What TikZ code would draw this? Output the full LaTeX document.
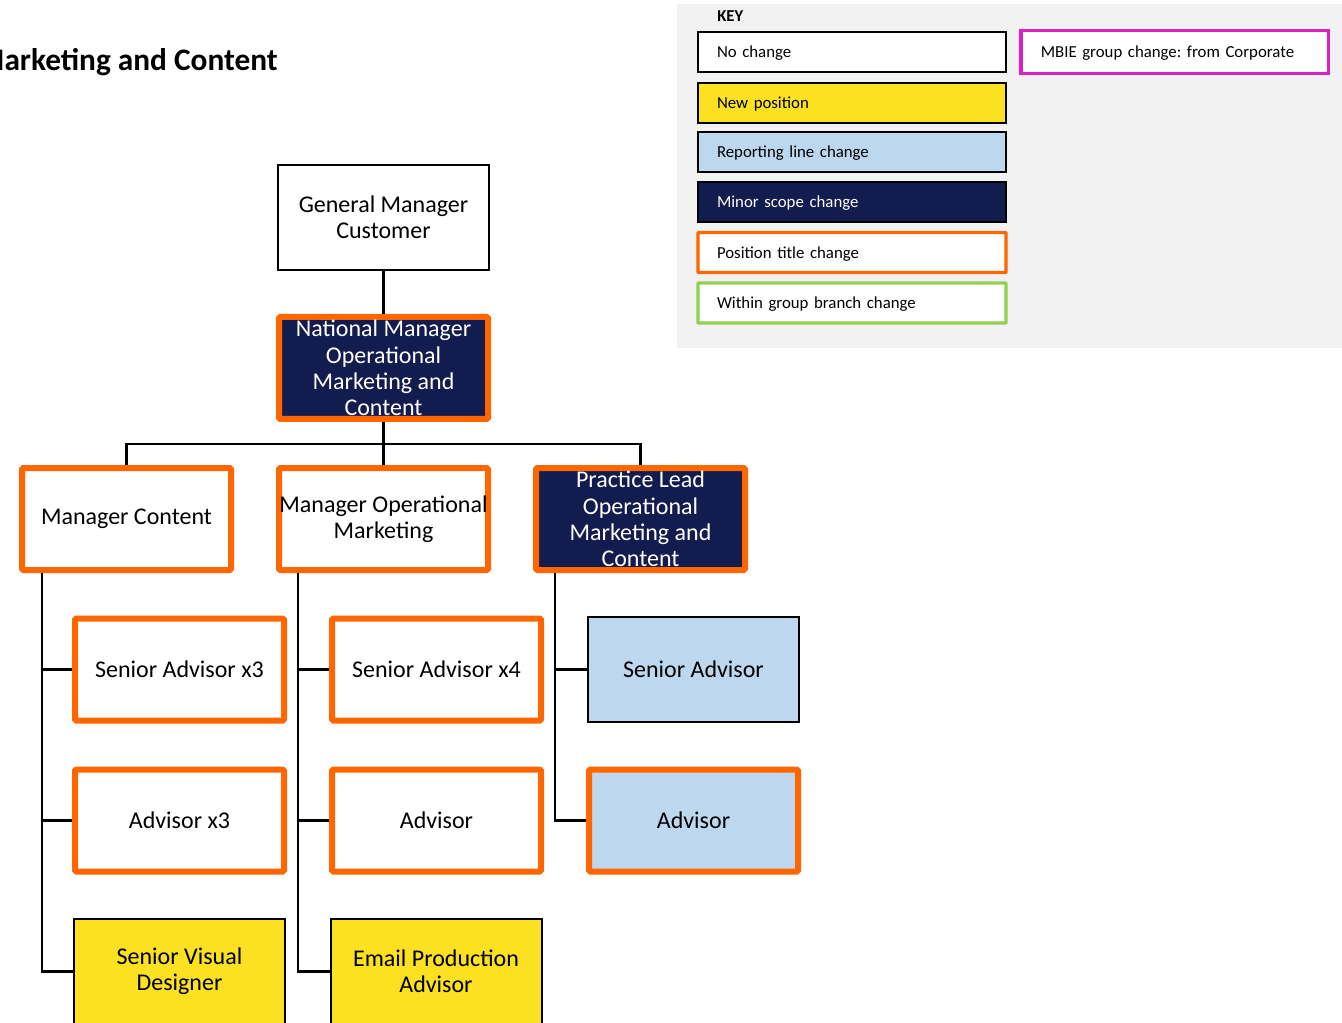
\documentclass[tikz,border=0pt]{standalone}
\usepackage{fontspec}
\setmainfont{Carlito}
\frenchspacing
\definecolor{navy}{HTML}{131C4E}
\definecolor{newyellow}{HTML}{FBE122}
\definecolor{lightblue}{HTML}{BDD7EE}
\definecolor{titleorange}{HTML}{FF6600}
\definecolor{branchgreen}{HTML}{92D050}
\definecolor{groupmagenta}{HTML}{E01FBF}
\definecolor{keygray}{HTML}{F2F2F2}
\tikzset{
  orgtext/.style={font=\fontsize{18}{19.8}\selectfont, align=center, inner sep=0pt},
  plainbox/.style={orgtext, draw=black, line width=1.5pt, minimum width=158.25pt, minimum height=78.75pt},
  renamedbox/.style={orgtext, draw=titleorange, line width=4.5pt, rounded corners=1pt, minimum width=156.75pt, minimum height=76.5pt},
  navyfill/.style={fill=navy, text=white},
  yellowfill/.style={fill=newyellow},
  bluefill/.style={fill=lightblue},
  keybox/.style={draw=black, line width=1.5pt, minimum height=30pt, inner xsep=14.25pt, inner ysep=0pt,
    text width=202.5pt, align=left, text height=10pt, text depth=1.5pt, font=\fontsize{12.6}{14}\selectfont},
  link/.style={draw=black, line width=1.9pt}
}
\begin{document}
\begin{tikzpicture}[x=0.75pt,y=-0.75pt]
\useasboundingbox (0,0) rectangle (1342,1023);

% title
\node[anchor=east, inner sep=0pt, font=\fontsize{23.5}{26}\selectfont\bfseries] (title) at (278,62.5) {Marketing and Content};

% legend panel
\fill[keygray] (677,4) rectangle (1342,348);
\node[anchor=west, inner sep=0pt, font=\fontsize{12.5}{14}\selectfont\bfseries] (keyhead) at (717,16) {KEY};
\node[keybox, fill=white] (k1) at (852,52) {No change};
\node[keybox, fill=newyellow] (k2) at (852,103) {New position};
\node[keybox, fill=lightblue] (k3) at (852,152) {Reporting line change};
\node[keybox, fill=navy, text=white] (k4) at (852,202) {Minor scope change};
\node[keybox, fill=white, draw=titleorange, line width=2.4pt, rounded corners=0.5pt] (k5) at (852,252.5) {Position title change};
\node[keybox, fill=white, draw=branchgreen, line width=2.4pt, rounded corners=0.5pt] (k6) at (852,303) {Within group branch change};
\node[keybox, fill=white, draw=groupmagenta, line width=2.6pt, minimum height=31.9pt, inner xsep=15pt, text width=200.6pt] (k7) at (1174.5,52) {MBIE group change: from Corporate};

% top of the structure
\node[plainbox, fill=white] (gm) at (383.5,217.5) {General Manager\\Customer};
\node[renamedbox, navyfill] (nm) at (383.5,368) {National Manager\\Operational\\Marketing and\\Content};

% second tier
\node[renamedbox, fill=white] (mc) at (126.5,519) {Manager Content};
\node[renamedbox, fill=white] (mom) at (383.5,519) {Manager Operational\\Marketing};
\node[renamedbox, navyfill] (pl) at (640.5,519) {Practice Lead\\Operational\\Marketing and\\Content};

% content team
\node[renamedbox, fill=white] (sa3) at (179.5,669.5) {Senior Advisor x3};
\node[renamedbox, fill=white] (a3) at (179.5,820.5) {Advisor x3};
\node[plainbox, yellowfill] (svd) at (179.5,971.5) {Senior Visual\\Designer};

% operational marketing team
\node[renamedbox, fill=white] (sa4) at (436.5,669.5) {Senior Advisor x4};
\node[renamedbox, fill=white] (adv) at (436.5,820.5) {Advisor};
\node[plainbox, yellowfill] (epa) at (436,971.5) {Email Production\\Advisor};

% practice lead team
\node[plainbox, bluefill] (sa) at (693.5,669.5) {Senior Advisor};
\node[renamedbox, bluefill] (pladv) at (693.5,820.5) {Advisor};

% reporting lines
\coordinate (bus) at (383.5,444);
\draw[link] (gm.south) -- (nm.north);
\draw[link] (nm.south) -- (bus);
\draw[link] (mc.north) |- (bus) -| (pl.north);
\draw[link] (mom.north) -- (bus);

\coordinate (s1) at (42,573);
\coordinate (s2) at (298,573);
\coordinate (s3) at (555,573);
\draw[link] (s1) |- (svd.west);
\draw[link] (sa3.west) -- (sa3.west -| s1);
\draw[link] (a3.west) -- (a3.west -| s1);
\draw[link] (s2) |- (epa.west);
\draw[link] (sa4.west) -- (sa4.west -| s2);
\draw[link] (adv.west) -- (adv.west -| s2);
\draw[link] (s3) |- (pladv.west);
\draw[link] (sa.west) -- (sa.west -| s3);
\end{tikzpicture}
\end{document}
